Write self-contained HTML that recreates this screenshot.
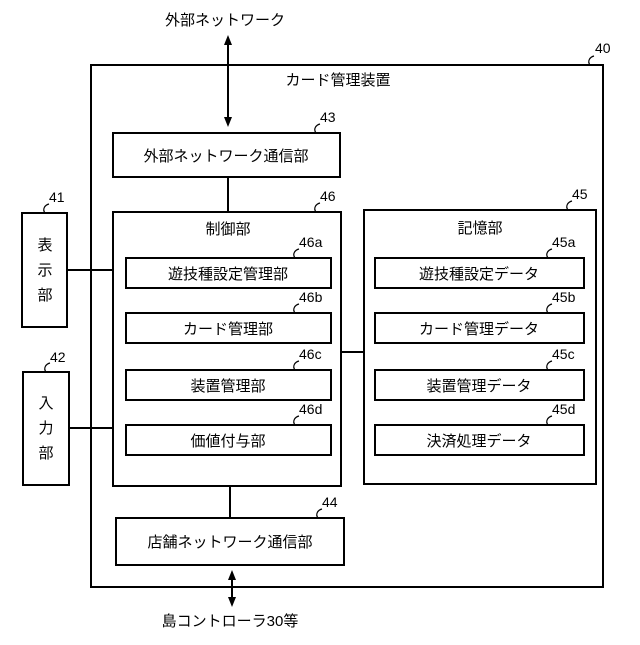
<!DOCTYPE html>
<html><head><meta charset="utf-8"><style>
body{margin:0;background:#fff}
svg text{font-family:"Liberation Sans","Noto Sans CJK JP",sans-serif;fill:#000}
</style></head><body>
<svg width="640" height="640" viewBox="0 0 640 640" xmlns="http://www.w3.org/2000/svg">
<defs><marker id="a" markerWidth="10" markerHeight="10" refX="5" refY="5" orient="auto-start-reverse" markerUnits="userSpaceOnUse"><path d="M0,1 L10,5 L0,9 Z" fill="#000"/></marker></defs>
<g fill="none" stroke="#000" stroke-width="2">
<rect x="91" y="65" width="512" height="522"/>
<rect x="113" y="133" width="227" height="44"/>
<rect x="113" y="212" width="228" height="274"/>
<rect x="126" y="258" width="205" height="30"/>
<rect x="126" y="313" width="205" height="30"/>
<rect x="126" y="370" width="205" height="30"/>
<rect x="126" y="425" width="205" height="30"/>
<rect x="364" y="210" width="232" height="274"/>
<rect x="375" y="258" width="209" height="30"/>
<rect x="375" y="313" width="209" height="30"/>
<rect x="375" y="370" width="209" height="30"/>
<rect x="375" y="425" width="209" height="30"/>
<rect x="22" y="213" width="45" height="114"/>
<rect x="23" y="372" width="46" height="113"/>
<rect x="116" y="518" width="228" height="47"/>
<path d="M67,270H113M69,428H113M341,352H364M228,177V212M230,486V518"/>
<path d="M228,40V122M228,40V122" marker-start="url(#a)" marker-end="url(#a)"/>
<path d="M232,575V602" marker-start="url(#a)" marker-end="url(#a)"/>
<g stroke-width="1.2">
<path d="M590,65c-3,-4 0,-8 4,-9"/>
<path d="M316,133c-3,-4 0,-8 4,-9"/>
<path d="M316,212c-3,-4 0,-8 4,-9"/>
<path d="M568,210c-3,-4 0,-8 4,-9"/>
<path d="M45,213c-3,-4 0,-8 4,-9"/>
<path d="M46,372c-3,-4 0,-8 4,-9"/>
<path d="M318,518c-3,-4 0,-8 4,-9"/>
<path d="M295,258c-3,-4 0,-8 4,-9"/><path d="M295,313c-3,-4 0,-8 4,-9"/><path d="M295,370c-3,-4 0,-8 4,-9"/><path d="M295,425c-3,-4 0,-8 4,-9"/>
<path d="M548,258c-3,-4 0,-8 4,-9"/><path d="M548,313c-3,-4 0,-8 4,-9"/><path d="M548,370c-3,-4 0,-8 4,-9"/><path d="M548,425c-3,-4 0,-8 4,-9"/>
</g></g>
<g font-size="15">
<text x="225" y="25" text-anchor="middle">外部ネットワーク</text>
<text x="338" y="85" text-anchor="middle">カード管理装置</text>
<text x="226" y="161" text-anchor="middle">外部ネットワーク通信部</text>
<text x="228" y="234" text-anchor="middle">制御部</text>
<text x="480" y="233" text-anchor="middle">記憶部</text>
<text x="228" y="279" text-anchor="middle">遊技種設定管理部</text>
<text x="228" y="334" text-anchor="middle">カード管理部</text>
<text x="228" y="391" text-anchor="middle">装置管理部</text>
<text x="228" y="446" text-anchor="middle">価値付与部</text>
<text x="479" y="279" text-anchor="middle">遊技種設定データ</text>
<text x="479" y="334" text-anchor="middle">カード管理データ</text>
<text x="479" y="391" text-anchor="middle">装置管理データ</text>
<text x="479" y="446" text-anchor="middle">決済処理データ</text>
<text x="230" y="547" text-anchor="middle">店舗ネットワーク通信部</text>
<text x="230" y="626" text-anchor="middle">島コントローラ30等</text>
<text x="45" y="250" text-anchor="middle">表</text><text x="45" y="275" text-anchor="middle">示</text><text x="45" y="300" text-anchor="middle">部</text>
<text x="46" y="408" text-anchor="middle">入</text><text x="46" y="433" text-anchor="middle">力</text><text x="46" y="458" text-anchor="middle">部</text>
</g>
<g font-size="14">
<text x="595" y="53">40</text><text x="320" y="122">43</text><text x="320" y="201">46</text><text x="572" y="199">45</text>
<text x="49" y="202">41</text><text x="50" y="362">42</text><text x="322" y="507">44</text>
<text x="299" y="247">46a</text><text x="299" y="302">46b</text><text x="299" y="359">46c</text><text x="299" y="414">46d</text>
<text x="552" y="247">45a</text><text x="552" y="302">45b</text><text x="552" y="359">45c</text><text x="552" y="414">45d</text>
</g>
</svg>
</body></html>
